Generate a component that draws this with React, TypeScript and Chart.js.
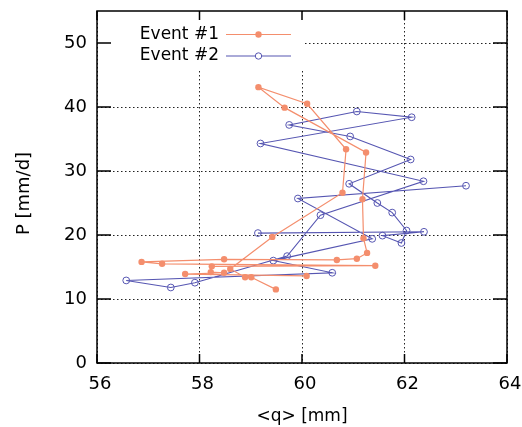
import React, { useEffect, useRef } from "react";
import { Chart, registerables } from "chart.js";

Chart.register(...registerables);

const xTicks = [56, 58, 60, 62, 64];
const yTicks = [0, 10, 20, 30, 40, 50];
const seriesNames = ["Event #1", "Event #2"];
const xTitle = "<q> [mm]";
const yTitle = "P [mm/d]";

const event1Q = [59.49, 59.01, 58.89, 58.6, 59.42, 60.79, 60.86, 60.1, 59.15, 59.66, 61.25, 61.18, 61.2, 61.27, 61.07, 60.68, 58.48, 56.87, 57.27, 61.43, 58.24, 58.22, 58.48, 57.72, 60.09];
const event1P = [11.5, 13.4, 13.4, 14.7, 19.7, 26.6, 33.4, 40.5, 43.1, 39.9, 32.9, 25.6, 19.5, 17.2, 16.3, 16.1, 16.2, 15.8, 15.5, 15.2, 15.1, 14.2, 14.1, 13.9, 13.6];

const event2Q = [59.14, 62.38, 61.57, 61.94, 62.04, 61.76, 61.47, 60.92, 62.12, 60.94, 59.75, 61.07, 62.14, 59.19, 62.37, 60.36, 59.71, 57.91, 57.44, 56.57, 60.59, 59.44, 61.37, 59.92, 63.2];
const event2P = [20.3, 20.5, 19.9, 18.75, 20.7, 23.5, 25.0, 28.0, 31.8, 35.4, 37.2, 39.3, 38.4, 34.3, 28.4, 23.1, 16.7, 12.55, 11.8, 12.9, 14.1, 16.0, 19.4, 25.7, 27.7];

const ORANGE = "#F48E6D";
const BLUE = "#5656B2";
const FONT = '"DejaVu Sans", "Liberation Sans", sans-serif';

const decorPlugin = {
  id: "decor",
  beforeDatasetsDraw(chart: any) {
    const { ctx, chartArea: a } = chart;
    ctx.save();
    ctx.fillStyle = "#ffffff";
    ctx.fillRect(a.left + 1, a.top + 1, 303 - a.left, 58);
    ctx.restore();
  },
  afterDatasetsDraw(chart: any) {
    const { ctx, chartArea: a, scales } = chart;
    const x = scales.x;
    const y = scales.y;
    ctx.save();
    // frame
    ctx.strokeStyle = "#000";
    ctx.lineWidth = 1.5;
    ctx.strokeRect(a.left, a.top, a.right - a.left, a.bottom - a.top);
    // inward ticks
    ctx.beginPath();
    for (const v of xTicks) {
      const px = x.getPixelForValue(v);
      ctx.moveTo(px, a.bottom);
      ctx.lineTo(px, a.bottom - 9);
      ctx.moveTo(px, a.top);
      ctx.lineTo(px, a.top + 9);
    }
    for (const v of yTicks) {
      const py = y.getPixelForValue(v);
      ctx.moveTo(a.left, py);
      ctx.lineTo(a.left + 14, py);
      ctx.moveTo(a.right, py);
      ctx.lineTo(a.right - 14, py);
    }
    ctx.stroke();

    // legend
    const rows = [
      { name: seriesNames[0], color: ORANGE, filled: true, yy: 34.5 },
      { name: seriesNames[1], color: BLUE, filled: false, yy: 56 },
    ];
    ctx.font = "17px " + FONT;
    ctx.textAlign = "right";
    ctx.textBaseline = "middle";
    for (const r of rows) {
      ctx.fillStyle = "#000";
      ctx.fillText(r.name, 219, r.yy);
      ctx.strokeStyle = r.color;
      ctx.lineWidth = 1.2;
      ctx.beginPath();
      ctx.moveTo(226, r.yy);
      ctx.lineTo(291, r.yy);
      ctx.stroke();
      ctx.beginPath();
      ctx.arc(258.5, r.yy, 3.2, 0, Math.PI * 2);
      if (r.filled) {
        ctx.fillStyle = r.color;
        ctx.fill();
      } else {
        ctx.fillStyle = "#fff";
        ctx.fill();
        ctx.lineWidth = 1;
        ctx.stroke();
      }
    }

    // axis titles
    ctx.fillStyle = "#000";
    ctx.font = "17px " + FONT;
    ctx.textAlign = "center";
    ctx.textBaseline = "alphabetic";
    ctx.fillText(xTitle, (a.left + a.right) / 2, 421);
    ctx.translate(24, 193.5);
    ctx.rotate(-Math.PI / 2);
    ctx.font = "18px " + FONT;
    ctx.textBaseline = "middle";
    ctx.fillText(yTitle, 0, 0);
    ctx.restore();
  },
};

export default function App() {
  const ref = useRef<HTMLCanvasElement | null>(null);

  useEffect(() => {
    if (!ref.current) return;
    const d1 = event1Q.map((q, i) => ({ x: q, y: event1P[i] }));
    const d2 = event2Q.map((q, i) => ({ x: q, y: event2P[i] }));
    const gridCommon = {
      color: "#222",
      lineWidth: 1,
      drawTicks: false,
    };
    const chart = new Chart(ref.current, {
      type: "scatter",
      data: {
        datasets: [
          {
            label: seriesNames[0],
            data: d1,
            showLine: true,
            borderColor: ORANGE,
            backgroundColor: ORANGE,
            borderWidth: 1.2,
            pointRadius: 3.2,
            pointBorderWidth: 0,
            pointBackgroundColor: ORANGE,
            pointBorderColor: ORANGE,
          },
          {
            label: seriesNames[1],
            data: d2,
            showLine: true,
            borderColor: BLUE,
            backgroundColor: BLUE,
            borderWidth: 1.1,
            pointRadius: 3.4,
            pointBorderWidth: 1,
            pointBackgroundColor: "rgba(255,255,255,0)",
            pointBorderColor: BLUE,
          },
        ] as any,
      },
      options: {
        responsive: false,
        animation: false,
        layout: { padding: { left: 0, right: 15, top: 11, bottom: 0 } },
        plugins: { legend: { display: false }, tooltip: { enabled: false } },
        scales: {
          x: {
            type: "linear",
            min: 56,
            max: 64,
            afterBuildTicks: (s: any) => {
              s.ticks = xTicks.map((v) => ({ value: v }));
            },
            afterFit: (s: any) => {
              s.height = 64;
              s.paddingLeft = 0;
              s.paddingRight = 0;
              s.paddingTop = 0;
              s.paddingBottom = 0;
            },
            ticks: {
              stepSize: 2,
              padding: 11,
              labelOffset: 3,
              color: "#000",
              font: { family: FONT, size: 18 },
              maxRotation: 0,
            },
            grid: gridCommon,
            border: { display: false, dash: [1.5, 2.5] },
          },
          y: {
            type: "linear",
            min: 0,
            max: 55,
            afterBuildTicks: (s: any) => {
              s.ticks = yTicks.map((v) => ({ value: v }));
            },
            afterFit: (s: any) => {
              s.width = 97;
              s.paddingLeft = 0;
              s.paddingRight = 0;
              s.paddingTop = 0;
              s.paddingBottom = 0;
            },
            ticks: {
              stepSize: 10,
              padding: 10,
              color: "#000",
              font: { family: FONT, size: 18 },
            },
            grid: gridCommon,
            border: { display: false, dash: [1.5, 2.5] },
          },
        },
      } as any,
      plugins: [decorPlugin],
    });
    return () => chart.destroy();
  }, []);

  return (
    <div style={{ position: "absolute", left: 0, top: 0, width: 522, height: 427, background: "#fff" }}>
      <canvas ref={ref} width={522} height={427} style={{ width: 522, height: 427, display: "block" }} />
    </div>
  );
}
